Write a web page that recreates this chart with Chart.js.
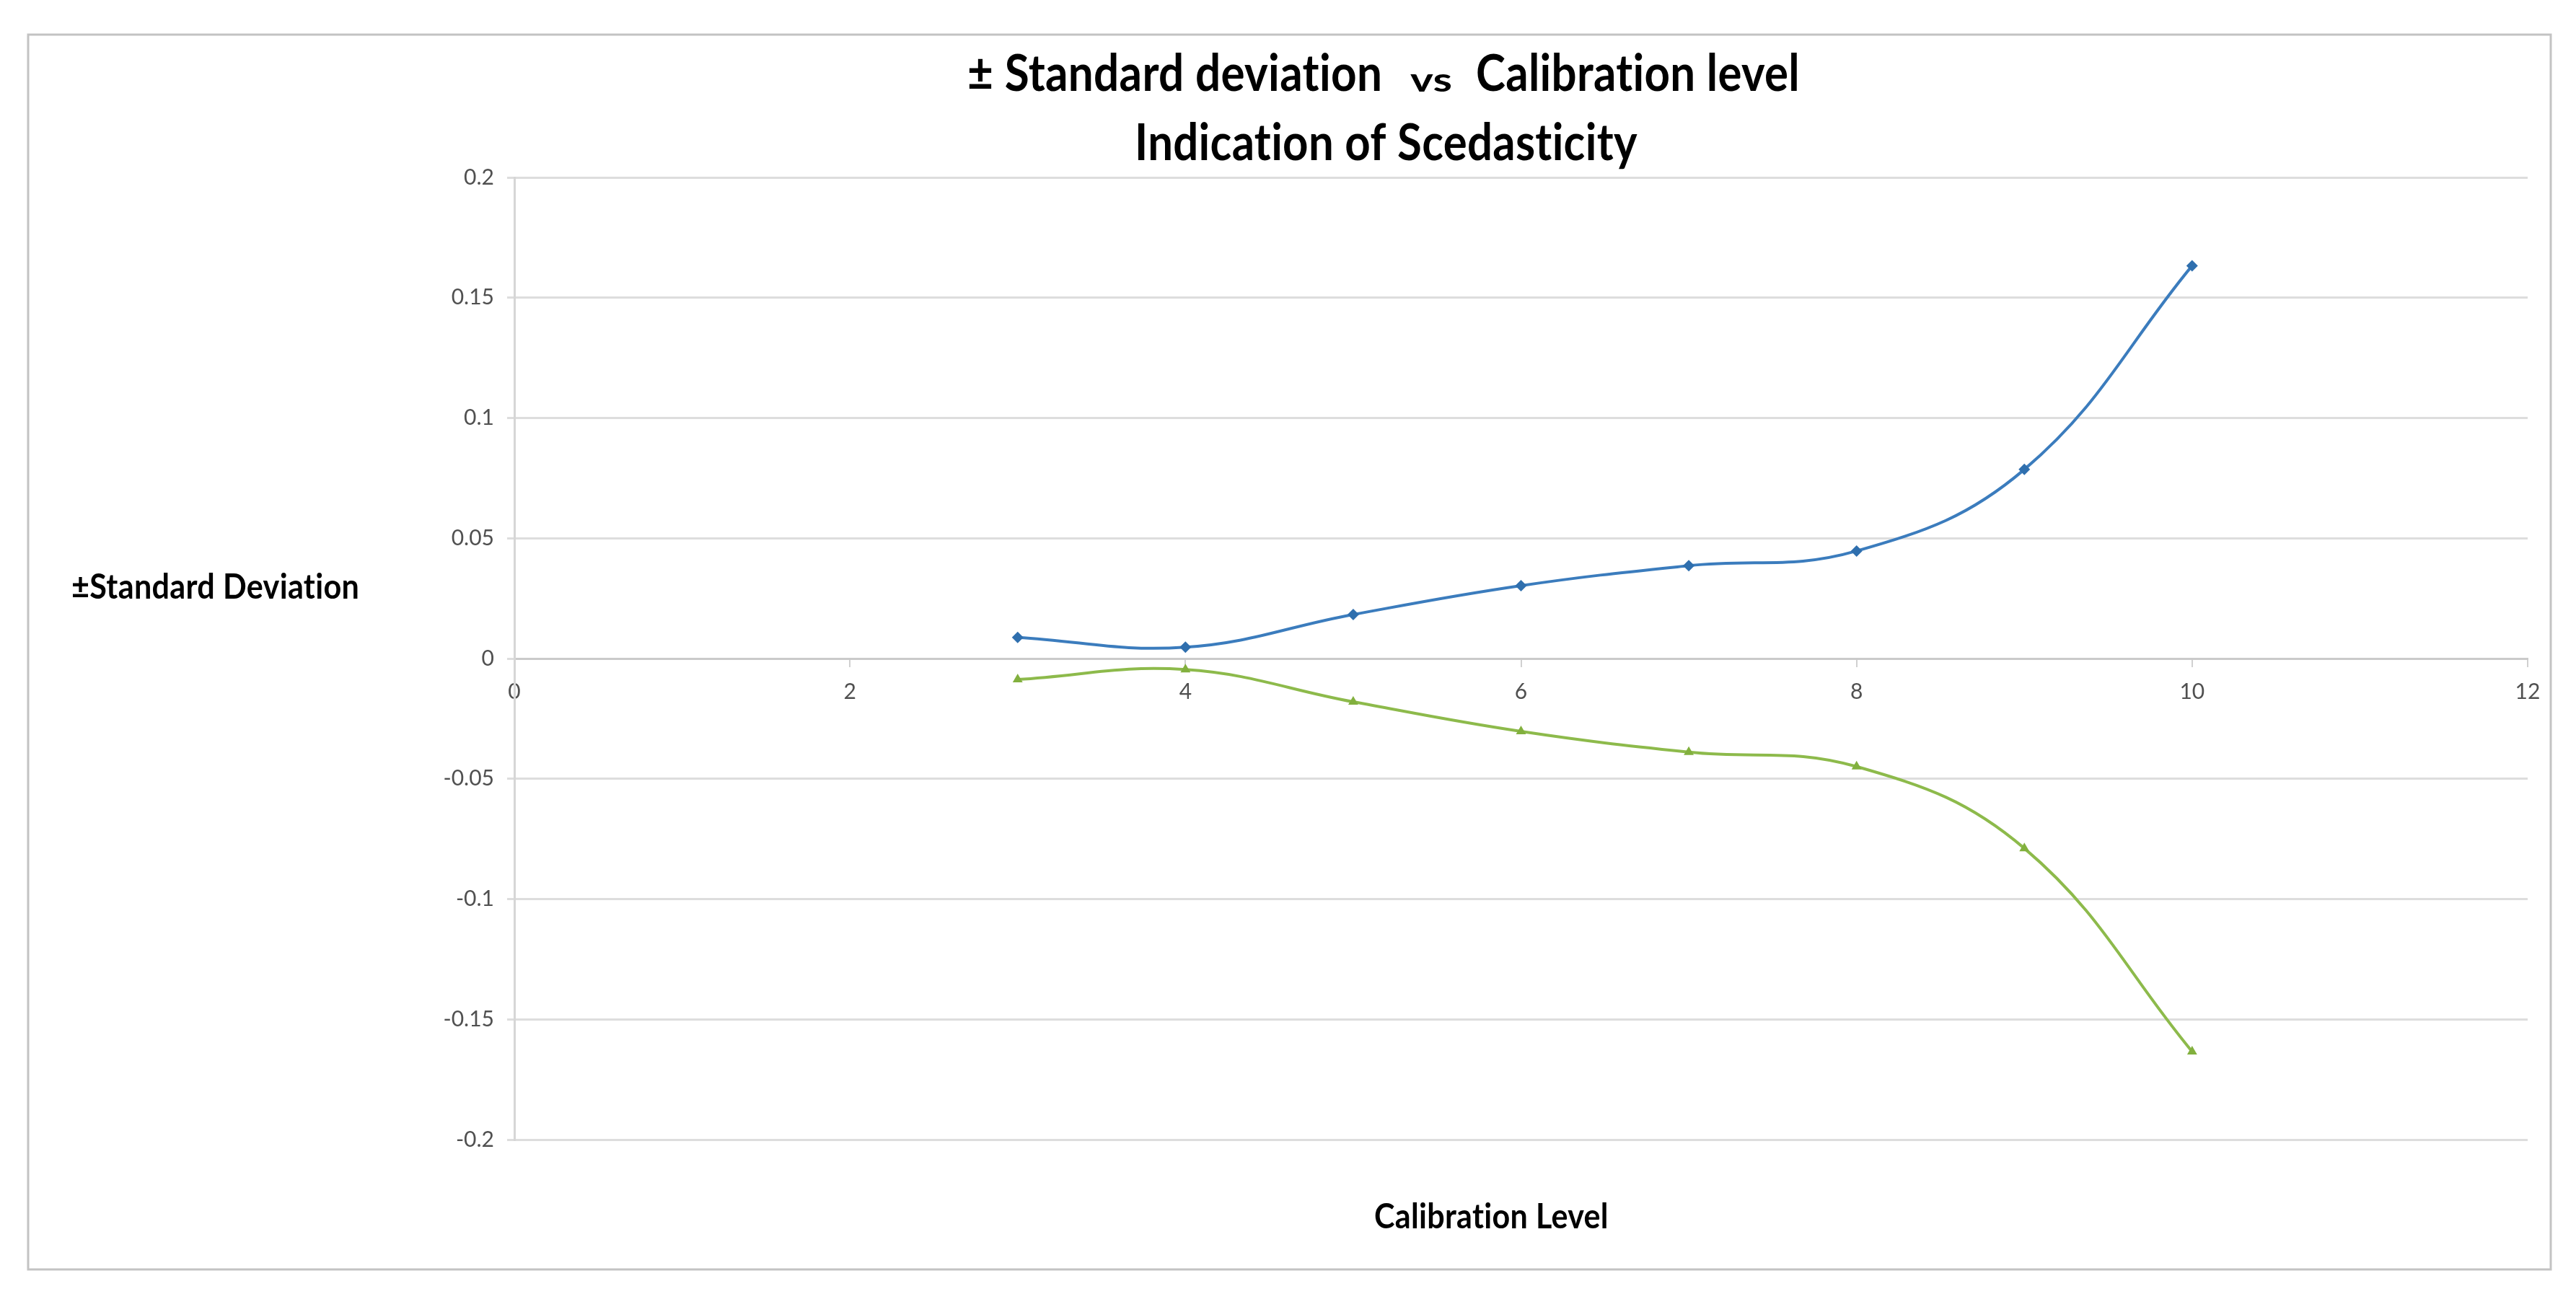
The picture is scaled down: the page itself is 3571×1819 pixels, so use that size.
<!DOCTYPE html>
<html>
<head>
<meta charset="utf-8">
<script src="https://cdn.jsdelivr.net/npm/chart.js@4.4.1/dist/chart.umd.min.js"></script>
<style>
  html, body { margin: 0; padding: 0; background: #ffffff; }
  #wrap { width: 3571px; height: 1819px; position: relative; }
</style>
</head>
<body>
<div id="wrap"><canvas id="c" width="3571" height="1819"></canvas></div>
<script>
// ---------------- data ----------------
const calibrationLevels = [3, 4, 5, 6, 7, 8, 9, 10];
const plusStdDev  = [0.0088, 0.0047, 0.0183, 0.0303, 0.0386, 0.0447, 0.0786, 0.1633];
const minusStdDev = [-0.0087, -0.0046, -0.0180, -0.0303, -0.0389, -0.0449, -0.0789, -0.1634];
const xTickValues = [0, 2, 4, 6, 8, 10, 12];
const yTickValues = [0.2, 0.15, 0.1, 0.05, 0, -0.05, -0.1, -0.15, -0.2];
const titleParts = ['± Standard deviation', 'vs', 'Calibration level'];
const titleLine2 = 'Indication of Scedasticity';
const yAxisTitle = '±Standard Deviation';
const xAxisTitle = 'Calibration Level';

const toPoints = (xs, ys) => xs.map((x, i) => ({ x: x, y: ys[i] }));

// draw text fitted to a width and a glyph height (text is vertically stretched like the original)
function drawFitted(ctx, text, left, baseline, width, refGlyph, refHeight, weight, family, color) {
  ctx.save();
  if ('letterSpacing' in ctx) ctx.letterSpacing = '0.3px'; // avoids "ti" ligatures
  ctx.font = weight + ' 100px ' + family;
  const w100 = ctx.measureText(text).width;
  const size = 100 * width / w100;
  ctx.font = weight + ' ' + size + 'px ' + family;
  const m = ctx.measureText(refGlyph);
  const h = m.actualBoundingBoxAscent || size * 0.72;
  const k = refHeight / h;
  ctx.translate(left, baseline);
  ctx.scale(1, k);
  ctx.fillStyle = color;
  ctx.textAlign = 'left';
  ctx.textBaseline = 'alphabetic';
  ctx.fillText(text, 0, 0);
  ctx.restore();
}

const framePlugin = {
  id: 'frame',
  beforeDraw(chart) {
    const ctx = chart.ctx;
    ctx.save();
    ctx.fillStyle = '#ffffff';
    ctx.fillRect(0, 0, chart.width, chart.height);
    ctx.strokeStyle = '#c3c3c3';
    ctx.lineWidth = 3;
    ctx.strokeRect(39, 48, 3497, 1712);
    ctx.restore();
  },
  afterDraw(chart) {
    const ctx = chart.ctx;
    const fam = 'Lato, "Open Sans", sans-serif';
    // title line 1 (three pieces, "vs" smaller)
    drawFitted(ctx, titleParts[0], 1341, 126, 573, 'S', 50, 'bold', fam, '#000000');
    drawFitted(ctx, titleParts[1], 1955, 127, 58, 'x', 24, 'bold', fam, '#000000');
    drawFitted(ctx, titleParts[2], 2046, 126, 447, 'C', 50, 'bold', fam, '#000000');
    // title line 2
    drawFitted(ctx, titleLine2, 1573, 222, 694, 'I', 50, 'bold', fam, '#000000');
    // axis titles
    drawFitted(ctx, yAxisTitle, 99, 830, 396, 'S', 36, 'bold', fam, '#000000');
    drawFitted(ctx, xAxisTitle, 1905, 1703, 322, 'C', 35, 'bold', fam, '#000000');
  }
};

const tickFont = { family: 'Lato, "Open Sans", sans-serif', size: 30 };
const fmt = v => String(Number(v.toFixed(2)));

new Chart(document.getElementById('c'), {
  type: 'line',
  data: {
    datasets: [
      {
        label: '+SD',
        data: toPoints(calibrationLevels, plusStdDev),
        borderColor: '#3b7cbd',
        backgroundColor: '#2f6fae',
        borderWidth: 4,
        pointStyle: 'rectRot',
        pointRadius: 8,
        pointBorderWidth: 0,
        tension: 0.4,
        fill: false
      },
      {
        label: '-SD',
        data: toPoints(calibrationLevels, minusStdDev),
        borderColor: '#8dba4b',
        backgroundColor: '#82b03e',
        borderWidth: 4,
        pointStyle: 'triangle',
        pointRadius: 8,
        pointBorderWidth: 0,
        tension: 0.4,
        fill: false
      }
    ]
  },
  options: {
    responsive: false,
    animation: false,
    devicePixelRatio: 1,
    layout: { padding: { left: 0, top: 246, right: 67, bottom: 239 } },
    plugins: {
      legend: { display: false },
      title: { display: false },
      tooltip: { enabled: false }
    },
    scales: {
      x: {
        type: 'linear',
        min: 0,
        max: 12,
        position: { y: 0 },
        afterFit(scale) { scale.height = 0; },
        afterBuildTicks(scale) { scale.ticks = xTickValues.map(v => ({ value: v })); },
        grid: {
          display: true,
          drawOnChartArea: false,
          drawTicks: true,
          tickLength: 10,
          color: '#d0d0d0',
          lineWidth: 2
        },
        border: { display: true, color: '#cacaca', width: 3 },
        ticks: {
          font: tickFont,
          color: '#505050',
          padding: 18,
          maxRotation: 0,
          autoSkip: false,
          callback: v => fmt(v)
        }
      },
      y: {
        type: 'linear',
        min: -0.2,
        max: 0.2,
        afterFit(scale) { scale.width = 713; },
        afterBuildTicks(scale) { scale.ticks = yTickValues.slice().reverse().map(v => ({ value: v })); },
        grid: {
          display: true,
          drawTicks: true,
          tickLength: 10,
          color: '#dddddd',
          lineWidth: 3
        },
        border: { display: true, color: '#d6d6d6', width: 3 },
        ticks: {
          font: tickFont,
          color: '#505050',
          padding: 18,
          autoSkip: false,
          callback: v => fmt(v)
        }
      }
    }
  },
  plugins: [framePlugin]
});
</script>
</body>
</html>
